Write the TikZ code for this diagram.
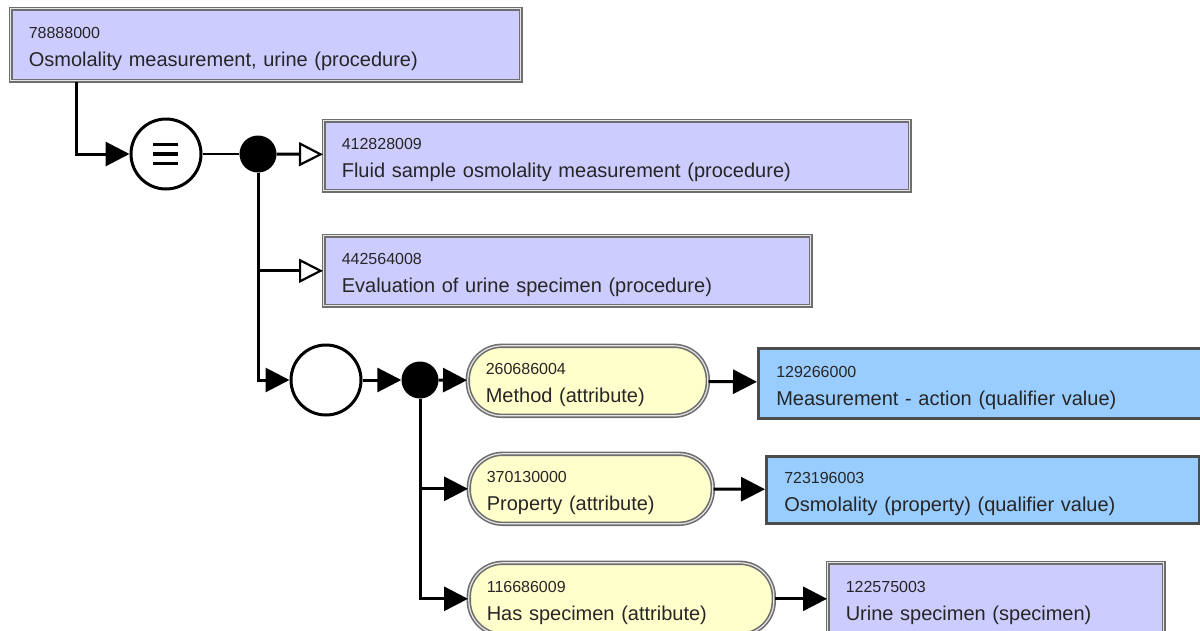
\documentclass[tikz,border=0pt]{standalone}
\usepackage{fontspec}
\setmainfont{Liberation Sans}
\usepackage{tikz}
\usetikzlibrary{calc, positioning, arrows.meta}
\definecolor{snomedlav}{RGB}{204,204,255}
\definecolor{snomedblue}{RGB}{153,204,255}
\definecolor{snomedyellow}{RGB}{255,255,204}
\definecolor{snomedgrey}{RGB}{110,110,110}
\newcommand{\conceptid}[1]{{\fontsize{16}{28}\selectfont\rule{0pt}{20pt}#1}}
\tikzset{
    boxw/.code={\pgfmathsetmacro\snomedtw{#1-36}\tikzset{minimum width=#1pt, text width/.expanded=\snomedtw pt}},
    conceptbase/.style={anchor=north west, align=left, inner xsep=18pt, inner ysep=0pt, minimum height=70pt, text=black!85, font=\fontsize{20}{28}\selectfont},
    primbox/.style={conceptbase, draw=snomedgrey, double=white!90!black, double distance=1.2pt, line width=1.6pt, fill=snomedlav},
    qualbox/.style={conceptbase, draw=black!70, line width=2.5pt, fill=snomedblue},
    attrpill/.style={conceptbase, draw=snomedgrey, double=white!90!black, double distance=1.2pt, line width=1.6pt, fill=snomedyellow, rounded corners=34pt},
    groupcircle/.style={circle, draw=black, line width=3pt, fill=white, minimum size=70pt, inner sep=0pt},
    defcircle/.style={groupcircle, path picture={\foreach \dy in {-9.5,0,9.5} \draw[line width=3.5pt] ($(path picture bounding box.center)+(-13,\dy)$) -- +(25,0);}},
    conjdot/.style={circle, fill=black, minimum size=37pt, inner sep=0pt},
    flowarrow/.style={-{Triangle[length=24pt,width=24pt]}, line width=3pt},
    isaarrow/.style={-{Triangle[open,length=24pt,width=24pt,line width=2.2pt,fill=white]}, line width=3pt}
}
\begin{document}
\begin{tikzpicture}[x=1pt,y=-1pt]
    \useasboundingbox (0,0) rectangle (1200,630);
    \clip (0,0) rectangle (1200,630);
    % Concepts
    \node[primbox, boxw=510, minimum height=72pt] (root)   at (10,8)    {\conceptid{78888000}\\Osmolality measurement, urine (procedure)};
    \node[primbox, boxw=586]                      (fluid)  at (323,120) {\conceptid{412828009}\\Fluid sample osmolality measurement (procedure)};
    \node[primbox, boxw=487]                      (evalu)  at (323,235) {\conceptid{442564008}\\Evaluation of urine specimen (procedure)};
    \node[attrpill, boxw=240]                     (method) at (467,345) {\conceptid{260686004}\\Method (attribute)};
    \node[qualbox, boxw=460]                      (action) at (757,347) {\conceptid{129266000}\\Measurement - action (qualifier value)};
    \node[attrpill, boxw=244]                     (prop)   at (468,453) {\conceptid{370130000}\\Property (attribute)};
    \node[qualbox, boxw=433, minimum height=67pt] (osmol)  at (765,455) {\conceptid{723196003}\\Osmolality (property) (qualifier value)};
    \node[attrpill, boxw=305, minimum height=72pt] (hasspec) at (468,562) {\conceptid{116686009}\\Has specimen (attribute)};
    \node[primbox, boxw=336, minimum height=72pt] (urine)  at (827,562) {\conceptid{122575003}\\Urine specimen (specimen)};
    
    % Definition status, groups and conjunctions
    \node[defcircle]   (eqc)  at (166,154) {};
    \node[conjdot]     (dotA) at (258,154) {};
    \node[groupcircle] (grp)  at (326,380) {};
    \node[conjdot]     (dotB) at (420,380) {};
    \coordinate (rootexit) at ($(root.south west)+(66,0)$);
    
    % Connectors
    \draw[flowarrow] (rootexit) |- (eqc);
    \draw[line width=2.5pt] (eqc) -- (dotA);
    \draw[isaarrow] (dotA) -- (fluid);
    \draw[isaarrow] (dotA) |- (evalu);
    \draw[flowarrow] (dotA) |- (grp);
    \draw[flowarrow] (grp) -- (dotB);
    \draw[flowarrow] (dotB) -- (method);
    \draw[flowarrow] (dotB) |- (prop);
    \draw[flowarrow] (dotB) |- (hasspec);
    \draw[flowarrow] (method) -- (action);
    \draw[flowarrow] (prop) -- (osmol);
    \draw[flowarrow] (hasspec) -- (urine);
\end{tikzpicture}
\end{document}
